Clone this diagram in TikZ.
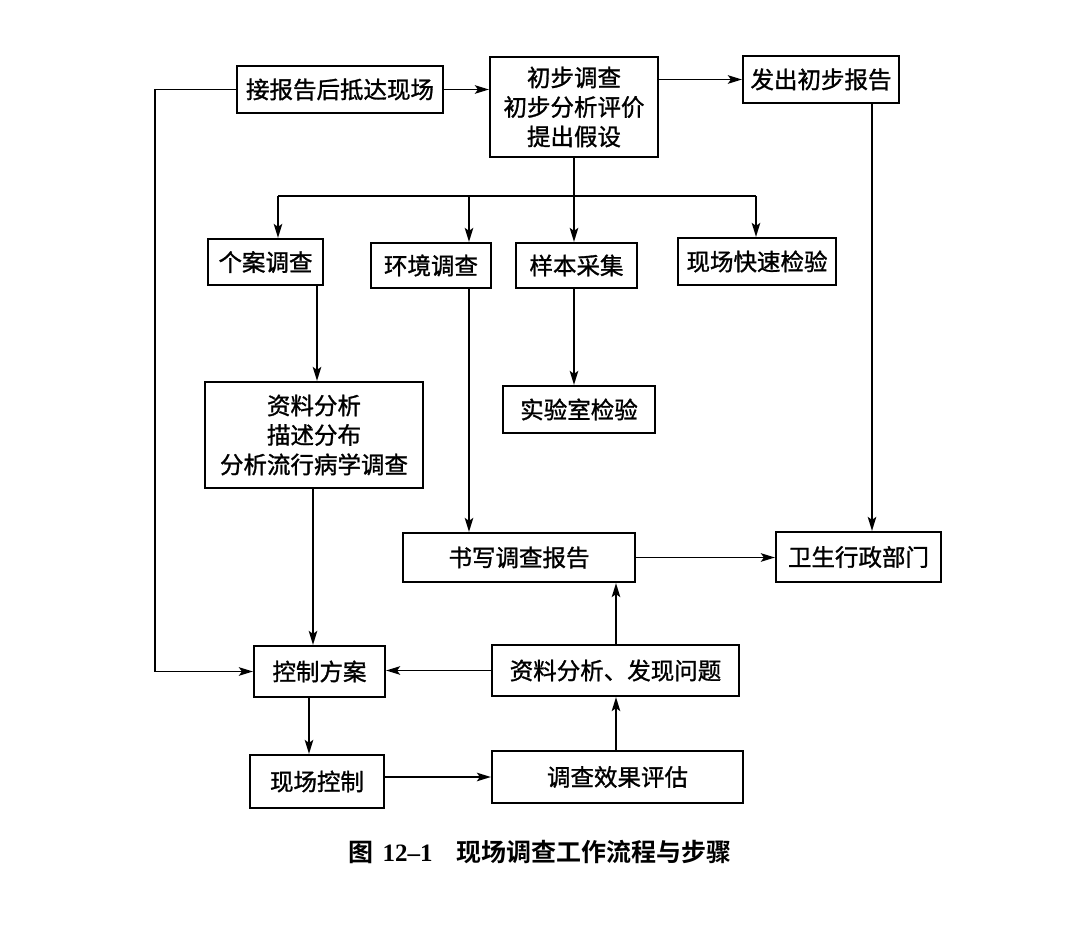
\documentclass[tikz,border=0pt]{standalone}
\usepackage{fontspec}
\newfontfamily\cjk[FakeBold=1.2]{Noto Sans CJK SC}
\newfontfamily\cjkb{Noto Sans CJK SC Bold}
\newfontfamily\lserif{Liberation Serif}
\usetikzlibrary{arrows.meta,calc}
\begin{document}
\begin{tikzpicture}[x=1pt,y=-1pt,
  box/.style={draw, line width=2.2pt, inner sep=0pt, align=center,
              font=\cjk\fontsize{23.5}{29.5}\selectfont},
  arr/.style={line width=1.8pt, -{Stealth[length=14pt,width=8.5pt,inset=3pt]}},
  ln/.style={line width=1.8pt}]
\useasboundingbox (0,0) rectangle (1080,926);
\fill[white] (0,0) rectangle (1080,926);

% boxes
\node[box, minimum width=206, minimum height=47] (A) at (340,89.5) {接报告后抵达现场};
\node[box, minimum width=168, minimum height=100] (B) at (574,107) {初步调查\\初步分析评价\\提出假设};
\node[box, minimum width=156, minimum height=47] (C) at (821,79.5) {发出初步报告};
\node[box, minimum width=115, minimum height=46] (D) at (265.5,262) {个案调查};
\node[box, minimum width=120, minimum height=45] (E) at (431,265.5) {环境调查};
\node[box, minimum width=121, minimum height=45] (F) at (576.5,265.5) {样本采集};
\node[box, minimum width=158, minimum height=47] (G) at (757,261.5) {现场快速检验};
\node[box, minimum width=218, minimum height=106] (H) at (314,435) {资料分析\\描述分布\\分析流行病学调查};
\node[box, minimum width=152, minimum height=47] (I) at (579,409.5) {实验室检验};
\node[box, minimum width=232, minimum height=49] (J) at (519,557.5) {书写调查报告};
\node[box, minimum width=165, minimum height=50] (K) at (858.5,557) {卫生行政部门};
\node[box, minimum width=131, minimum height=51] (L) at (319.5,671.5) {控制方案};
\node[box, minimum width=247, minimum height=51] (M) at (615.5,670.5) {资料分析、发现问题};
\node[box, minimum width=134, minimum height=53] (N) at (317,781.5) {现场控制};
\node[box, minimum width=251, minimum height=52] (O) at (617.5,777) {调查效果评估};

% helper coordinates
\coordinate (lt) at (155,0);
\coordinate (bl) at (278,196);
\coordinate (bm) at (574,196);
\coordinate (be) at (469,196);
\coordinate (bg) at (756,196);
\coordinate (ck) at (872,0);
\coordinate (dh) at (317,0);
\coordinate (hl) at (313,0);
\coordinate (mj) at (616,0);
\coordinate (lnx) at (309,0);

% connectors
\draw[arr] (A.east) -- (A.east -| B.west);
\draw[arr] (B.east |- C.west) -- (C.west);
\draw[arr] (A.west) -- (A.west -| lt) -- (lt |- L.west) -- (L.west);
\draw[ln] (B.south) -- (bm);
\draw[ln] (bl) -- (bg);
\draw[arr] (bl) -- (bl |- D.north);
\draw[arr] (be) -- (be |- E.north);
\draw[arr] (bm) -- (bm |- F.north);
\draw[arr] (bg) -- (bg |- G.north);
\draw[arr] (ck |- C.south) -- (ck |- K.north);
\draw[arr] (dh |- D.south) -- (dh |- H.north);
\draw[arr] (be |- E.south) -- (be |- J.north);
\draw[arr] (bm |- F.south) -- (bm |- I.north);
\draw[arr] (hl |- H.south) -- (hl |- L.north);
\draw[arr] (J.east) -- (J.east -| K.west);
\draw[arr] (M.west) -- (M.west -| L.east);
\draw[arr] (mj |- M.north) -- (mj |- J.south);
\draw[arr] (lnx |- L.south) -- (lnx |- N.north);
\draw[arr] (N.east |- O.west) -- (O.west);
\draw[arr] (mj |- O.north) -- (mj |- M.south);

% caption
\node (cap) at (540,852) {\fontsize{25}{30}\selectfont{\cjkb 图}\hspace{0.35em}{\lserif\bfseries 12–1}\hspace{0.95em}{\cjkb 现场调查工作流程与步骤}};
\end{tikzpicture}
\end{document}
